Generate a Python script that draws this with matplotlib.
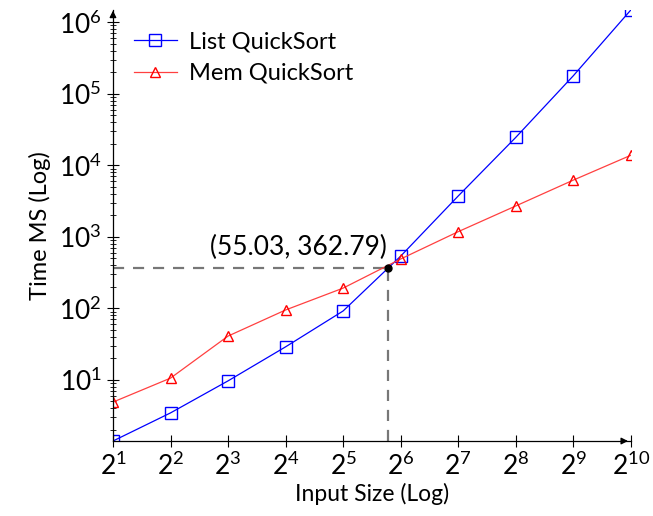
import matplotlib
matplotlib.use("Agg")
import matplotlib.pyplot as plt
import numpy as np

# input sizes and timings (ms)
sizes = [2, 4, 8, 16, 32, 64, 128, 256, 512, 1024]
list_qs = [1.4, 3.46, 9.7, 29, 92, 537, 3720, 24500, 178000, 1.48e6]
mem_qs = [4.9, 10.6, 41, 95, 192, 490, 1180, 2700, 6200, 13800]
cross_x, cross_y = 55.03, 362.79

plt.rcParams['font.family'] = ['Lato', 'DejaVu Sans']
plt.rcParams['mathtext.fontset'] = 'custom'
plt.rcParams['mathtext.rm'] = 'Lato'
plt.rcParams['mathtext.it'] = 'Lato'

fig = plt.figure(figsize=(6.53, 5.16), dpi=100)
ax = fig.add_axes([0.173, 0.1453, 0.793, 0.8353])

ax.plot(sizes, list_qs, color='#0000ff', lw=0.9, marker='s', ms=8,
        mfc='none', mec='#0000ff', mew=1.0, label='List QuickSort')
ax.plot(sizes, mem_qs, color='#ff4040', lw=0.9, marker='^', ms=7,
        mfc='none', mec='#ff0000', mew=1.0, label='Mem QuickSort')

ax.set_xscale('log', base=2)
ax.set_yscale('log', base=10)
ax.set_xlim(2, 1024)
ax.set_ylim(min(list_qs), max(list_qs))

# dashed guides to the crossing point
ax.plot([2, cross_x], [cross_y, cross_y], color='#777777', lw=1.6,
        dashes=(5, 4), zorder=1)
ax.plot([cross_x, cross_x], [min(list_qs), cross_y], color='#777777',
        lw=1.6, dashes=(5, 4), zorder=1)
ax.plot([cross_x], [cross_y], 'o', color='black', ms=5, zorder=5)
ax.annotate('(55.03, 362.79)', xy=(cross_x, cross_y), xytext=(-1, 6),
            textcoords='offset points', ha='right', va='bottom', fontsize=19)

ax.set_xticks(sizes)
ax.set_xticklabels([r'$2^{%d}$' % int(np.log2(s)) for s in sizes])
ax.xaxis.set_minor_locator(matplotlib.ticker.NullLocator())
ax.set_yticks([10, 100, 1e3, 1e4, 1e5, 1e6])
ax.set_yticklabels([r'$10^{%d}$' % k for k in range(1, 7)])
ax.yaxis.set_minor_locator(matplotlib.ticker.LogLocator(base=10, subs=np.arange(2, 10)))
ax.yaxis.set_minor_formatter(matplotlib.ticker.NullFormatter())
ax.tick_params(axis='both', which='major', direction='inout', length=8,
               width=0.8, labelsize=19, pad=4)
ax.tick_params(axis='y', which='major', pad=4)
ax.tick_params(axis='y', which='minor', direction='inout', length=4, width=0.6)

for s in ['top', 'right']:
    ax.spines[s].set_visible(False)
for s in ['left', 'bottom']:
    ax.spines[s].set_linewidth(0.9)

# axis arrows
ax.annotate('', xy=(1.0, 0), xytext=(0.98, 0), xycoords='axes fraction',
            arrowprops=dict(arrowstyle='-|>', color='black', lw=0.9,
                            mutation_scale=10))
ax.annotate('', xy=(0, 1.005), xytext=(0, 0.98), xycoords='axes fraction',
            arrowprops=dict(arrowstyle='-|>', color='black', lw=0.9,
                            mutation_scale=10))

ax.set_xlabel('Input Size (Log)', fontsize=16.5, labelpad=2)
ax.set_ylabel('Time MS (Log)', fontsize=17, labelpad=6)

ax.legend(loc='upper left', bbox_to_anchor=(0.0, 1.0), frameon=False,
          fontsize=17, handlelength=1.8, handletextpad=0.5, labelspacing=0.45)

fig.savefig('out.png', dpi=100)
